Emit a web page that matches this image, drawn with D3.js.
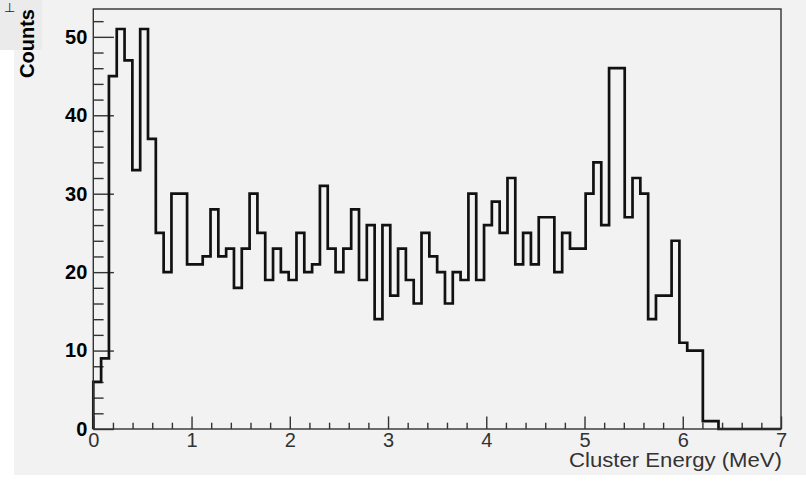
<!DOCTYPE html>
<html>
<head>
<meta charset="utf-8">
<script src="https://cdn.jsdelivr.net/npm/d3@7"></script>
<style>
  html, body { margin: 0; padding: 0; background: #ffffff; }
  svg { display: block; }
  text { font-family: "Liberation Sans", Arial, Helvetica, sans-serif; }
</style>
</head>
<body>
<svg id="chart" width="806" height="481"></svg>
<script>
// ---- data ----
const xRange = [0, 7];          // MeV
const nBins = 88;
const counts = [
  6, 9, 45, 51, 47, 33, 51, 37, 25, 20,
  30, 30, 21, 21, 22, 28, 22, 23, 18, 23,
  30, 25, 19, 23, 20, 19, 25, 20, 21, 31,
  23, 20, 23, 28, 19, 26, 14, 26, 17, 23,
  19, 16, 25, 22, 20, 16, 20, 19, 30, 19,
  26, 29, 25, 32, 21, 25, 21, 27, 27, 20,
  25, 23, 23, 30, 34, 26, 46, 46, 27, 32,
  30, 14, 17, 17, 24, 11, 10, 10, 1, 1,
  0, 0, 0, 0, 0, 0, 0, 0
];
const xMajorTicks = [0, 1, 2, 3, 4, 5, 6, 7];
const xMinorTicks = [0.2,0.4,0.6,0.8,1.2,1.4,1.6,1.8,2.2,2.4,2.6,2.8,3.2,3.4,3.6,3.8,4.2,4.4,4.6,4.8,5.2,5.4,5.6,5.8,6.2,6.4,6.6,6.8];
const yMajorTicks = [0, 10, 20, 30, 40, 50];
const yMinorTicks = [2,4,6,8,12,14,16,18,22,24,26,28,32,34,36,38,42,44,46,48,52];
const xTitle = "Cluster Energy (MeV)";
const yTitle = "Counts";

// ---- layout ----
const W = 806, H = 481;
const L = 93.3, R = 781, T = 9, B = 429;
const yMax = d3.max(counts) * 1.05;

const svg = d3.select("#chart");

// backgrounds
svg.append("rect").attr("x", 0).attr("y", 0).attr("width", W).attr("height", 475).attr("fill", "#f2f2f2");
svg.append("rect").attr("x", 0).attr("y", 50).attr("width", 14).attr("height", H - 50).attr("fill", "#ffffff");
svg.append("rect").attr("x", 0).attr("y", 0).attr("width", 42).attr("height", 50).attr("fill", "#ebebeb");
svg.append("text").attr("x", 9).attr("y", 12).attr("font-size", 13).attr("fill", "#222")
  .attr("text-anchor", "middle").text("\u22A5");

const x = d3.scaleLinear().domain(xRange).range([L, R]);
const y = d3.scaleLinear().domain([0, yMax]).range([B, T]);

const binW = (xRange[1] - xRange[0]) / nBins;

// ---- axes ----
const tickColor = "#333";
const gxMinor = svg.append("g").attr("transform", `translate(0,${B})`)
  .call(d3.axisBottom(x).tickValues(xMinorTicks).tickSize(-6.3).tickFormat(""));
const gx = svg.append("g").attr("transform", `translate(0,${B})`)
  .call(d3.axisBottom(x).tickValues(xMajorTicks).tickSize(-12.6).tickPadding(4).tickFormat(d3.format("d")));
const gyMinor = svg.append("g").attr("transform", `translate(${L},0)`)
  .call(d3.axisLeft(y).tickValues(yMinorTicks).tickSize(-10.3).tickFormat(""));
const gy = svg.append("g").attr("transform", `translate(${L},0)`)
  .call(d3.axisLeft(y).tickValues(yMajorTicks).tickSize(-20.6).tickPadding(6).tickFormat(d3.format("d")));

[gxMinor, gx, gyMinor, gy].forEach(g => {
  g.select(".domain").remove();
  g.selectAll(".tick line").attr("stroke", tickColor).attr("stroke-width", 1.4);
});
gx.selectAll(".tick text").attr("font-size", 20).attr("fill", "#333");
gy.selectAll(".tick text").attr("font-size", 20).attr("font-weight", "bold").attr("fill", "#000");

// ---- histogram ----
const pts = [[xRange[0], 0]];
counts.forEach((c, i) => {
  const x0 = xRange[0] + i * binW, x1 = x0 + binW;
  pts.push([x0, c]);
  pts.push([x1, c]);
});
pts.push([xRange[1], 0]);

svg.append("path")
  .datum(pts)
  .attr("fill", "none")
  .attr("stroke", "#111")
  .attr("stroke-width", 2.7)
  .attr("stroke-linejoin", "miter")
  .attr("d", d3.line().x(d => x(d[0])).y(d => y(d[1])));

// frame
svg.append("rect").attr("x", L).attr("y", T).attr("width", R - L).attr("height", B - T)
  .attr("fill", "none").attr("stroke", "#333").attr("stroke-width", 1.4);

// ---- titles ----
svg.append("text").attr("x", 782).attr("y", 467).attr("text-anchor", "end")
  .attr("font-size", 20).attr("fill", "#333")
  .attr("textLength", 213).attr("lengthAdjust", "spacingAndGlyphs").text(xTitle);
svg.append("text").attr("transform", "translate(34,9) rotate(-90)").attr("text-anchor", "end")
  .attr("font-size", 20).attr("font-weight", "bold").attr("fill", "#000").text(yTitle);
</script>
</body>
</html>
